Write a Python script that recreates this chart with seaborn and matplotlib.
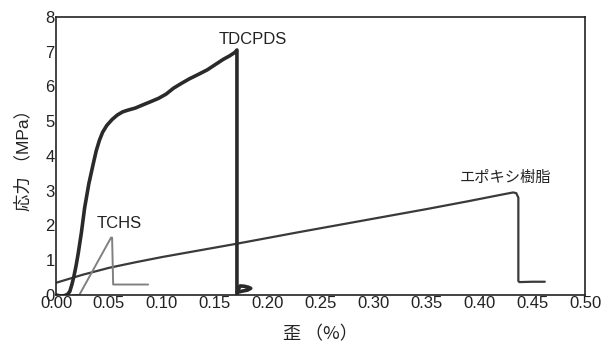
import numpy as np
import pandas as pd
import matplotlib
matplotlib.use("Agg")
import matplotlib.pyplot as plt
import seaborn as sns

# TDCPDS curve (strain %, stress MPa)
tdcpds_x = [0.000, 0.004, 0.008, 0.011, 0.013, 0.015, 0.017, 0.019, 0.021, 0.024, 0.027, 0.031,
            0.035, 0.038, 0.041, 0.044, 0.048, 0.053, 0.058, 0.063, 0.068, 0.075, 0.082, 0.090,
            0.097, 0.104, 0.111, 0.118, 0.126, 0.134, 0.143, 0.150, 0.158, 0.164, 0.169, 0.171,
            0.171, 0.171]
tdcpds_y = [0.00, -0.03, -0.02, 0.02, 0.10, 0.30, 0.55, 0.85, 1.20, 1.80, 2.50, 3.20,
            3.75, 4.15, 4.45, 4.68, 4.88, 5.05, 5.18, 5.27, 5.32, 5.38, 5.47, 5.57,
            5.66, 5.78, 5.95, 6.08, 6.22, 6.34, 6.48, 6.62, 6.78, 6.88, 6.98, 7.05,
            3.50, 0.00]
tdcpds_tail_x = [0.171, 0.174, 0.178, 0.182, 0.184, 0.181, 0.176, 0.172]
tdcpds_tail_y = [0.08, 0.26, 0.25, 0.22, 0.19, 0.14, 0.11, 0.08]

# Epoxy resin curve
epoxy_x = [0.000, 0.025, 0.050, 0.075, 0.100, 0.135, 0.170, 0.200, 0.230, 0.270, 0.310,
           0.350, 0.390, 0.420, 0.432, 0.435, 0.437, 0.437, 0.438, 0.450, 0.462]
epoxy_y = [0.35, 0.58, 0.78, 0.94, 1.09, 1.28, 1.47, 1.64, 1.81, 2.03, 2.25,
           2.47, 2.70, 2.88, 2.95, 2.93, 2.80, 0.40, 0.37, 0.38, 0.38]

# TCHS curve
tchs_x = [0.016, 0.022, 0.052, 0.053, 0.054, 0.070, 0.087]
tchs_y = [0.00, 0.00, 1.65, 1.65, 0.30, 0.30, 0.30]

x_ticks = [0.00, 0.05, 0.10, 0.15, 0.20, 0.25, 0.30, 0.35, 0.40, 0.45, 0.50]
y_ticks = [0, 1, 2, 3, 4, 5, 6, 7, 8]

sns.set_theme(style="white")
plt.rcParams['font.family'] = ['Liberation Sans', 'Noto Sans CJK JP']
plt.rcParams['axes.unicode_minus'] = False

fig = plt.figure(figsize=(6.09, 3.47), dpi=100)
ax = fig.add_axes([0.092, 0.150, 0.8686, 0.801])

df_ep = pd.DataFrame({"x": epoxy_x, "y": epoxy_y})
df_tc = pd.DataFrame({"x": tchs_x, "y": tchs_y})
df_td = pd.DataFrame({"x": tdcpds_x, "y": tdcpds_y})
df_tt = pd.DataFrame({"x": tdcpds_tail_x, "y": tdcpds_tail_y})

kw = dict(x="x", y="y", sort=False, estimator=None, ax=ax)
sns.lineplot(data=df_ep, color="#3a3a3a", lw=1.6, **kw)
sns.lineplot(data=df_tc, color="#808080", lw=1.4, **kw)
sns.lineplot(data=df_td, color="#2a2a2a", lw=2.6, **kw)
sns.lineplot(data=df_tt, color="#2a2a2a", lw=2.6, **kw)

ax.set_xlim(0, 0.5)
ax.set_ylim(0, 8)
ax.set_xticks(x_ticks)
ax.set_xticklabels([f"{v:.2f}" for v in x_ticks])
ax.set_yticks(y_ticks)
ax.tick_params(direction="in", length=5, width=1, colors="#222222", labelsize=12, pad=1)
for s in ax.spines.values():
    s.set_color("#222222")
    s.set_linewidth(1.2)

ax.set_xlabel("歪 （%）", fontsize=13, color="#222222", labelpad=10,
              family=['Noto Sans CJK JP'])
ax.set_ylabel("応力 （MPa）", fontsize=12.5, color="#222222", labelpad=10,
              family=['Liberation Sans', 'Noto Sans CJK JP'])

ax.text(0.186, 7.35, "TDCPDS", ha="center", va="center", fontsize=12, color="#222222")
ax.text(0.060, 2.07, "TCHS", ha="center", va="center", fontsize=12, color="#222222")
ax.text(0.425, 3.37, "エポキシ樹脂", ha="center", va="center", fontsize=11, color="#222222",
        family=['Noto Sans CJK JP'])

fig.savefig("out.png", dpi=100)
